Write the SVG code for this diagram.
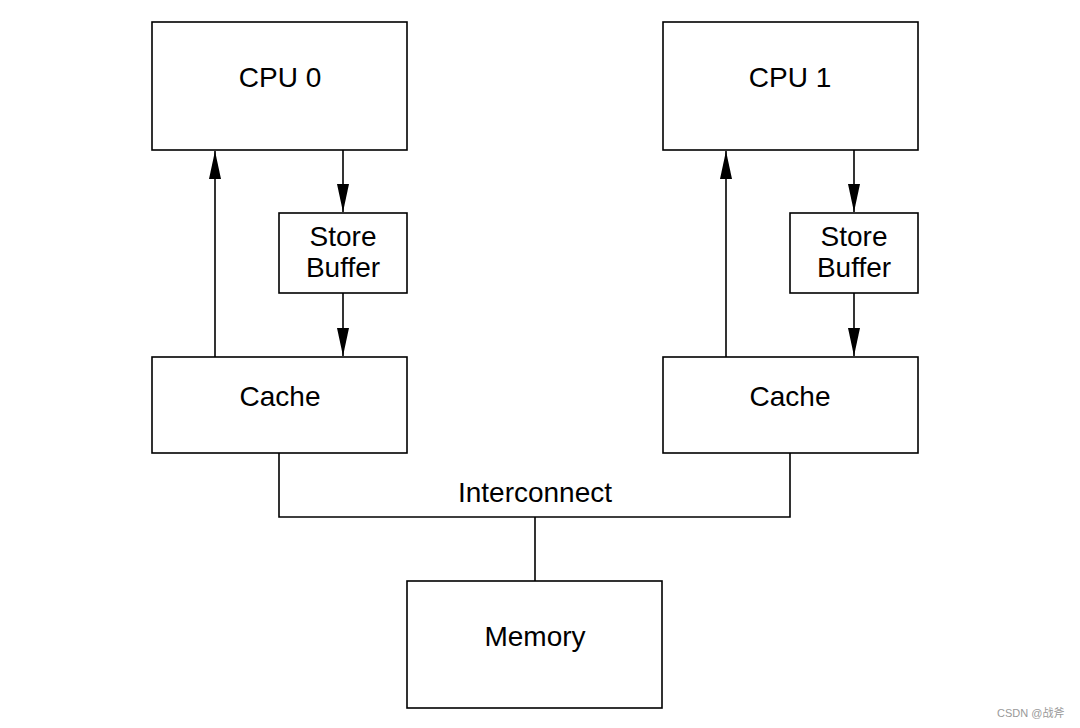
<svg xmlns="http://www.w3.org/2000/svg" width="1080" height="728" viewBox="0 0 1080 728">
<style>
.box{fill:#fff;stroke:#000;stroke-width:1.6}
.t{font-family:"Liberation Sans",Arial,sans-serif;font-size:28px;fill:#000;text-anchor:middle}
.ln{fill:none;stroke:#000;stroke-width:1.6}
.wm{font-family:"Liberation Sans","Noto Sans CJK SC",sans-serif;font-size:11px;fill:#999}
</style>
<defs>
<marker id="ah" markerWidth="28" markerHeight="12" refX="28" refY="6" orient="auto" markerUnits="userSpaceOnUse">
<path d="M0,0 L28,6 L0,12 Z" fill="#000"/>
</marker>
</defs>
<rect width="1080" height="728" fill="#fff"/>
<g id="connectors">
<line class="ln" x1="215" y1="357" x2="215" y2="151" marker-end="url(#ah)"/>
<line class="ln" x1="343" y1="150" x2="343" y2="212" marker-end="url(#ah)"/>
<line class="ln" x1="343" y1="293" x2="343" y2="356" marker-end="url(#ah)"/>
<line class="ln" x1="726" y1="357" x2="726" y2="151" marker-end="url(#ah)"/>
<line class="ln" x1="854" y1="150" x2="854" y2="212" marker-end="url(#ah)"/>
<line class="ln" x1="854" y1="293" x2="854" y2="356" marker-end="url(#ah)"/>
<polyline class="ln" points="279,453 279,517 790,517 790,453"/>
<line class="ln" x1="535" y1="517" x2="535" y2="581"/>
<text class="t" x="535" y="502">Interconnect</text>
</g>
<g id="cpu0"><rect class="box" x="152" y="22" width="255" height="128"/><text class="t" x="280" y="87">CPU 0</text></g>
<g id="sb0"><rect class="box" x="279" y="213" width="128" height="80"/><text class="t" x="343" y="246">Store</text><text class="t" x="343" y="277">Buffer</text></g>
<g id="cache0"><rect class="box" x="152" y="357" width="255" height="96"/><text class="t" x="280" y="406">Cache</text></g>
<g id="cpu1"><rect class="box" x="663" y="22" width="255" height="128"/><text class="t" x="790" y="87">CPU 1</text></g>
<g id="sb1"><rect class="box" x="790" y="213" width="128" height="80"/><text class="t" x="854" y="246">Store</text><text class="t" x="854" y="277">Buffer</text></g>
<g id="cache1"><rect class="box" x="663" y="357" width="255" height="96"/><text class="t" x="790" y="406">Cache</text></g>
<g id="memory"><rect class="box" x="407" y="581" width="255" height="127"/><text class="t" x="535" y="646">Memory</text></g>
<text class="wm" x="997" y="717">CSDN @战斧</text>
</svg>
